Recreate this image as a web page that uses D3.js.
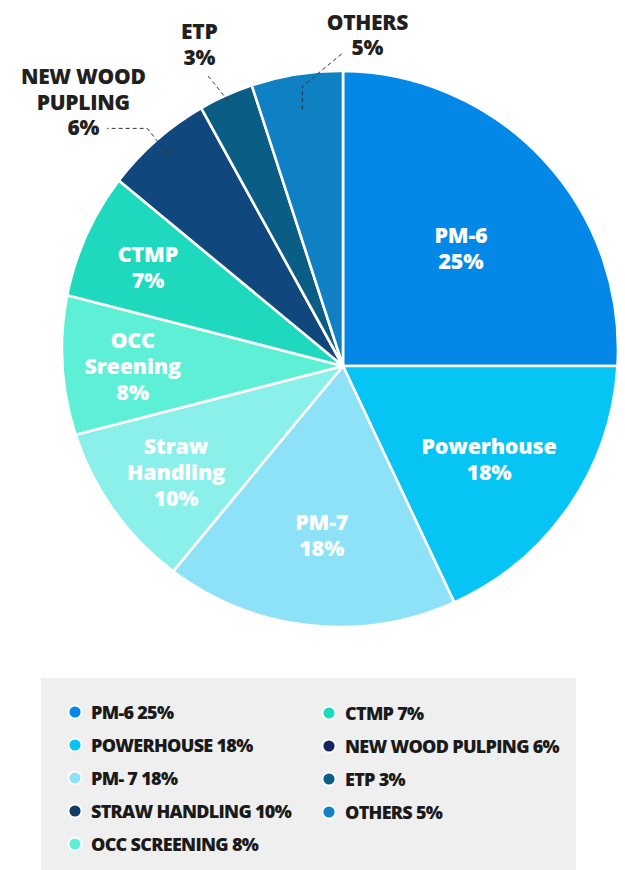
<!DOCTYPE html>
<html>
<head>
<meta charset="utf-8">
<script src="https://cdn.jsdelivr.net/npm/d3@7"></script>
<style>
  html, body { margin: 0; padding: 0; background: #ffffff; }
  svg { display: block; }
</style>
</head>
<body>
<svg id="chart" width="625" height="870"></svg>
<script>
// Power consumption share by section
const sliceNames  = ["PM-6", "Powerhouse", "PM-7", "Straw|Handling", "OCC|Sreening", "CTMP", "NEW WOOD|PUPLING", "ETP", "OTHERS"];
const shareValues = [25, 18, 18, 10, 8, 7, 6, 3, 5];
const sliceColors = ["#0388e8", "#06c4f3", "#8ee2f7", "#8cf0ea", "#5ef0d6", "#1fd9be", "#10477d", "#0a5e85", "#1080c4"];
const legendNames = ["PM-6", "POWERHOUSE", "PM- 7", "STRAW HANDLING", "OCC SCREENING", "CTMP", "NEW WOOD PULPING", "ETP", "OTHERS"];
const legendColors = ["#0388e8", "#06c4f3", "#8ee2f7", "#0d3d62", "#5ef0d6", "#1fd9be", "#13265f", "#0b5e85", "#1180c4"];
const outsideSlices = ["NEW WOOD|PUPLING", "ETP", "OTHERS"];

const svg = d3.select("#chart");

// Outer rim is a circle; the wedges meet at a hub slightly below its centre
const rim = { x: 340, y: 349, r: 278 };
const hub = { x: 343, y: 366 };

const pie = d3.pie().sort(null).value(d => d.value);
const data = sliceNames.map((name, i) => ({ name, value: shareValues[i], color: sliceColors[i] }));
const arcs = pie(data);

// point where a ray from the hub at angle a (clockwise from 12 o'clock) meets the rim
function rimPoint(a) {
  const dx = Math.sin(a), dy = -Math.cos(a);
  const vx = hub.x - rim.x, vy = hub.y - rim.y;
  const b = vx * dx + vy * dy;
  const t = -b + Math.sqrt(b * b - (vx * vx + vy * vy - rim.r * rim.r));
  return [hub.x + t * dx, hub.y + t * dy, t];
}
function pointAlong(a, frac) {
  const p = rimPoint(a);
  return [hub.x + p[2] * frac * Math.sin(a), hub.y - p[2] * frac * Math.cos(a)];
}

function wedgePath(d) {
  const p0 = rimPoint(d.startAngle), p1 = rimPoint(d.endAngle);
  const a0 = Math.atan2(p0[1] - rim.y, p0[0] - rim.x);
  const a1 = Math.atan2(p1[1] - rim.y, p1[0] - rim.x);
  const path = d3.path();
  path.moveTo(hub.x, hub.y);
  path.lineTo(p0[0], p0[1]);
  path.arc(rim.x, rim.y, rim.r, a0, a1 < a0 ? a1 + 2 * Math.PI : a1, false);
  path.closePath();
  return path.toString();
}

svg.append("g")
  .selectAll("path")
  .data(arcs)
  .join("path")
  .attr("d", wedgePath)
  .attr("fill", d => d.data.color)
  .attr("stroke", "#ffffff")
  .attr("stroke-width", 2.6)
  .attr("stroke-linejoin", "round");

// labels inside the larger wedges (smaller wedges get their label further out)
const inside = arcs.filter(d => !outsideSlices.includes(d.data.name));
const insideG = svg.append("g")
  .attr("font-family", "'Open Sans', sans-serif")
  .attr("font-weight", 800)
  .attr("font-size", 21.5)
  .attr("letter-spacing", "-0.2px")
  .attr("fill", "#ffffff")
  .attr("text-anchor", "middle");

inside.forEach(d => {
  const mid = (d.startAngle + d.endAngle) / 2;
  const frac = 0.83 - 0.01 * d.data.value;
  const [x, y] = pointAlong(mid, frac);
  const lines = d.data.name.split("|").concat([d.data.value + "%"]);
  const lh = 26;
  const t = insideG.append("text").attr("x", x).attr("y", y - (lines.length - 1) * lh / 2 + 8);
  lines.forEach((ln, i) => {
    t.append("tspan").attr("x", x).attr("dy", i === 0 ? 0 : lh).text(ln);
  });
});

// callouts for the thin wedges; text offset is the last line's baseline
const callouts = {
  "NEW WOOD|PUPLING": { frac: 0.92, elbow: [-24, -30], end: [-64, -30], text: [-88, -23] },
  "ETP":              { frac: 0.98, elbow: null,        end: [-22, -27], text: [-29, -36] },
  "OTHERS":           { frac: 0.88, elbow: [0, -23],    end: [40, -56],  text: [65, -54] }
};
const outG = svg.append("g");
arcs.filter(d => outsideSlices.includes(d.data.name)).forEach(d => {
  const c = callouts[d.data.name];
  const mid = (d.startAngle + d.endAngle) / 2;
  const s = pointAlong(mid, c.frac);
  const pts = [s];
  if (c.elbow) pts.push([s[0] + c.elbow[0], s[1] + c.elbow[1]]);
  pts.push([s[0] + c.end[0], s[1] + c.end[1]]);
  outG.append("path")
    .attr("d", d3.line()(pts))
    .attr("fill", "none")
    .attr("stroke", "#333333")
    .attr("stroke-width", 1)
    .attr("stroke-dasharray", "4,3");
  const lines = d.data.name.split("|").concat([d.data.value + "%"]);
  const tx = s[0] + c.text[0], ty = s[1] + c.text[1];
  const lh = 25.5;
  const t = outG.append("text")
    .attr("font-family", "'Open Sans', sans-serif")
    .attr("font-weight", 800)
    .attr("font-size", 21)
    .attr("letter-spacing", "-0.3px")
    .attr("fill", "#231f20")
    .attr("text-anchor", "middle")
    .attr("x", tx)
    .attr("y", ty - (lines.length - 1) * lh);
  lines.forEach((ln, i) => {
    t.append("tspan").attr("x", tx).attr("dy", i === 0 ? 0 : lh).text(ln);
  });
});

// legend panel
const legend = svg.append("g");
legend.append("rect")
  .attr("x", 41).attr("y", 678).attr("width", 535).attr("height", 192)
  .attr("fill", "#efefef");

const legendItems = legendNames.map((n, i) => ({ label: n + " " + shareValues[i] + "%", color: legendColors[i], i }));
const rowY = d3.scalePoint().domain(d3.range(5)).range([712, 844]);
const colX = [75, 329];

const li = legend.selectAll("g.item")
  .data(legendItems)
  .join("g")
  .attr("class", "item")
  .attr("transform", d => {
    const col = d.i < 5 ? 0 : 1;
    const row = d.i < 5 ? d.i : d.i - 5;
    return `translate(${colX[col]},${rowY(row) + (col ? 1 : 0)})`;
  });

li.append("circle")
  .attr("r", 6.5)
  .attr("fill", d => d.color)
  .attr("stroke", "#ffffff")
  .attr("stroke-width", 1.8);

li.append("text")
  .attr("x", 16)
  .attr("y", 6.5)
  .attr("font-family", "'Open Sans', sans-serif")
  .attr("font-weight", 800)
  .attr("font-size", 18)
  .attr("letter-spacing", "-0.7px")
  .attr("fill", "#1a1a1a")
  .text(d => d.label);
</script>
</body>
</html>
